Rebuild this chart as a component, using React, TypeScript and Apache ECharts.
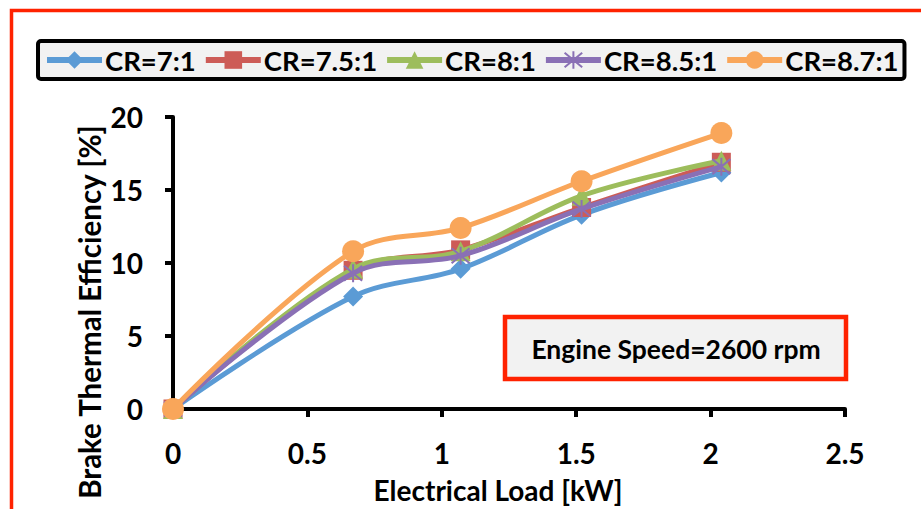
import React, { useEffect, useRef } from "react";
import * as echarts from "echarts";

const loads = [0, 0.67, 1.07, 1.52, 2.04];
const seriesNames = ["CR=7:1", "CR=7.5:1", "CR=8:1", "CR=8.5:1", "CR=8.7:1"];
const cr70 = [0, 7.7, 9.6, 13.3, 16.2];
const cr75 = [0, 9.5, 10.9, 13.8, 16.9];
const cr80 = [0, 9.6, 10.8, 14.6, 17.0];
const cr85 = [0, 9.3, 10.5, 13.7, 16.6];
const cr87 = [0, 10.8, 12.4, 15.6, 18.9];
const xTicks = [0, 0.5, 1, 1.5, 2, 2.5];
const yTicks = [0, 5, 10, 15, 20];
const xTitle = "Electrical Load [kW]";
const yTitle = "Brake Thermal Efficiency [%]";
const note = "Engine Speed=2600 rpm";

const colors = ["#5b9bd5", "#cd5c57", "#9dbd5c", "#8a70b5", "#f9a65a"];
const symbols = [
  "diamond",
  "rect",
  "triangle",
  "path://M0,0L10,10M10,0L0,10M5,-1L5,11",
  "circle",
];
const symbolSizes = [20, 19, 20, 18, 22];

const FONT = "Lato, 'Open Sans', sans-serif";

export default function App() {
  const ref = useRef<HTMLDivElement>(null);
  useEffect(() => {
    document.body.style.margin = "0";
    const chart = echarts.init(ref.current!, null, { renderer: "svg" });
    const allData = [cr70, cr75, cr80, cr85, cr87];
    const series = allData.map((vals, i) => ({
      name: seriesNames[i],
      type: "line",
      smooth: 0.35,
      data: vals.map((v, j) => [loads[j], v]),
      symbol: symbols[i],
      symbolSize: symbolSizes[i],
      showAllSymbol: true,
      lineStyle: { color: colors[i], width: 5 },
      itemStyle:
        i === 3
          ? { color: "rgba(0,0,0,0)", borderColor: colors[i], borderWidth: 2 }
          : { color: colors[i], borderWidth: 0 },
      z: 2 + i,
    }));
    chart.setOption({
      animation: false,
      backgroundColor: "#ffffff",
      textStyle: { fontFamily: FONT },
      grid: { left: 173, right: 76, top: 117, bottom: 96, containLabel: false },
      legend: {
        left: 38,
        top: 41,
        width: 880,
        padding: [5, 6, 5, 6],
        backgroundColor: "#f2f2f2",
        borderColor: "#000000",
        borderWidth: 4,
        borderRadius: 3,
        itemWidth: 55,
        itemHeight: 22,
        itemGap: 7,
        lineStyle: { width: 6 },
        textStyle: {
          fontFamily: FONT,
          fontWeight: "bold",
          fontSize: 27.5,
          color: "#000000",
          padding: [0, 0, 0, -2],
        },
        data: seriesNames,
      },
      xAxis: {
        type: "value",
        min: xTicks[0],
        max: xTicks[xTicks.length - 1],
        interval: 0.5,
        name: xTitle,
        nameLocation: "middle",
        nameGap: 67,
        nameTextStyle: {
          fontFamily: FONT,
          fontWeight: "bold",
          fontSize: 28,
          color: "#000",
          padding: [0, 22, 0, 0],
        },
        axisLine: { lineStyle: { color: "#000", width: 4 } },
        axisTick: { show: true, length: 8, lineStyle: { color: "#000", width: 4 } },
        axisLabel: {
          fontFamily: FONT,
          fontWeight: "bold",
          fontSize: 28,
          color: "#000",
          margin: 30,
        },
        splitLine: { show: false },
      },
      yAxis: {
        type: "value",
        min: yTicks[0],
        max: yTicks[yTicks.length - 1],
        interval: 5,
        axisLine: { show: true, lineStyle: { color: "#000", width: 4 } },
        axisTick: { show: true, length: 8, lineStyle: { color: "#000", width: 4 } },
        axisLabel: {
          fontFamily: FONT,
          fontWeight: "bold",
          fontSize: 28,
          color: "#000",
          margin: 30,
        },
        splitLine: { show: false },
      },
      graphic: [
        {
          type: "rect",
          z: 100,
          shape: { x: 11.5, y: 10.5, width: 1000, height: 1000 },
          style: { fill: "none", stroke: "#ff2200", lineWidth: 3.5 },
          silent: true,
        },
        {
          type: "text",
          z: 100,
          x: 89,
          y: 312,
          rotation: Math.PI / 2,
          style: {
            text: yTitle,
            fontFamily: FONT,
            fontWeight: "bold",
            fontSize: 29.5,
            fill: "#000",
            textAlign: "center",
            textVerticalAlign: "middle",
          },
        },
        {
          type: "group",
          z: 100,
          children: [
            {
              type: "rect",
              shape: { x: 505, y: 317, width: 341, height: 62 },
              style: { fill: "#f2f2f2", stroke: "#ff2200", lineWidth: 4.5 },
            },
            {
              type: "text",
              x: 676,
              y: 349,
              style: {
                text: note,
                fontFamily: FONT,
                fontWeight: "bold",
                fontSize: 26.5,
                fill: "#000",
                textAlign: "center",
                textVerticalAlign: "middle",
              },
            },
          ],
        },
      ],
      series,
    });
    return () => chart.dispose();
  }, []);
  return <div ref={ref} style={{ width: 921, height: 509 }} />;
}
